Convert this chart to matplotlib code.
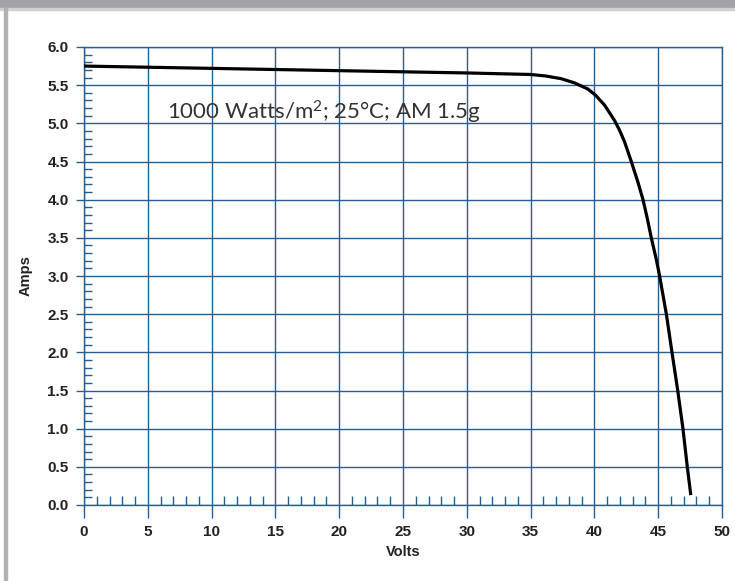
import matplotlib
matplotlib.use("Agg")
import matplotlib.pyplot as plt
from matplotlib.patches import Rectangle
from matplotlib.ticker import MultipleLocator

# I-V curve
volts = [0, 10, 20, 30, 35, 36.2, 37.39, 38.44, 39.48, 40.08, 40.79, 41.57,
         41.97, 42.36, 42.89, 43.41, 43.81, 44.15, 44.46, 44.86, 45.11, 45.64,
         46.08, 46.53, 46.94, 47.28, 47.54]
amps = [5.75, 5.72, 5.69, 5.66, 5.64, 5.62, 5.585, 5.53, 5.45, 5.37, 5.24, 5.04,
        4.91, 4.76, 4.50, 4.23, 4.0, 3.75, 3.50, 3.21, 3.0, 2.5,
        2.0, 1.5, 1.0, 0.5, 0.15]

x_ticks = [0, 5, 10, 15, 20, 25, 30, 35, 40, 45, 50]
y_ticks = [0.0, 0.5, 1.0, 1.5, 2.0, 2.5, 3.0, 3.5, 4.0, 4.5, 5.0, 5.5, 6.0]
note = "1000 Watts/m$^2$; 25°C; AM 1.5g"

BLUE = "#245f93"

plt.rcParams["font.family"] = ["Liberation Sans", "DejaVu Sans"]
plt.rcParams["mathtext.fontset"] = "custom"
plt.rcParams["mathtext.rm"] = "Lato"
plt.rcParams["mathtext.default"] = "regular"

fig = plt.figure(figsize=(7.35, 5.81), dpi=100)
W, H = 735, 581

# gray frame bits
fig.patches.append(Rectangle((0, 1 - 8 / H), 1, 8 / H, transform=fig.transFigure,
                             color="#a2a3a6", zorder=0))
fig.patches.append(Rectangle((0, 1 - 10 / H), 1, 2 / H, transform=fig.transFigure,
                             color="#d0d0d2", zorder=0))
fig.patches.append(Rectangle((4 / W, 0), 3 / W, 1 - 8 / H, transform=fig.transFigure,
                             color="#b2b2b4", zorder=0))

ax = fig.add_axes([84 / W, 76 / H, 638 / W, 458 / H])
ax.plot(volts, amps, color="black", lw=2.3, zorder=5, solid_joinstyle="round")

ax.set_xlim(0, 50)
ax.set_ylim(0, 6)
ax.set_xticks(x_ticks)
ax.set_yticks(y_ticks)
ax.set_yticklabels([f"{v:.1f}" for v in y_ticks])
ax.xaxis.set_minor_locator(MultipleLocator(1))
ax.yaxis.set_minor_locator(MultipleLocator(0.1))

ax.grid(True, which="major", color=BLUE, lw=1.0)
for s in ax.spines.values():
    s.set_color(BLUE)
    s.set_linewidth(1.0)

ax.tick_params(axis="x", which="major", direction="out", length=9.5, width=1,
               color=BLUE, pad=5)
ax.tick_params(axis="y", which="major", direction="out", length=6, width=1,
               color=BLUE, pad=5)
ax.tick_params(axis="x", which="minor", direction="in", length=6.5, width=1,
               color=BLUE)
ax.tick_params(axis="y", which="minor", direction="in", length=5.5, width=1,
               color=BLUE)
ax.tick_params(which="major", labelsize=11, labelcolor="#222222")
for lab in ax.get_xticklabels() + ax.get_yticklabels():
    lab.set_fontweight("bold")

ax.set_xlabel("Volts", fontsize=10.5, fontweight="bold", color="#222222", labelpad=4)
ax.set_ylabel("Amps", fontsize=10.5, fontweight="bold", color="#222222", labelpad=11)

ax.text(6.5, 5.05, note, fontsize=16, color="#333333",
        family=["Lato", "DejaVu Sans"], zorder=6)

fig.savefig("out.png", dpi=100)
